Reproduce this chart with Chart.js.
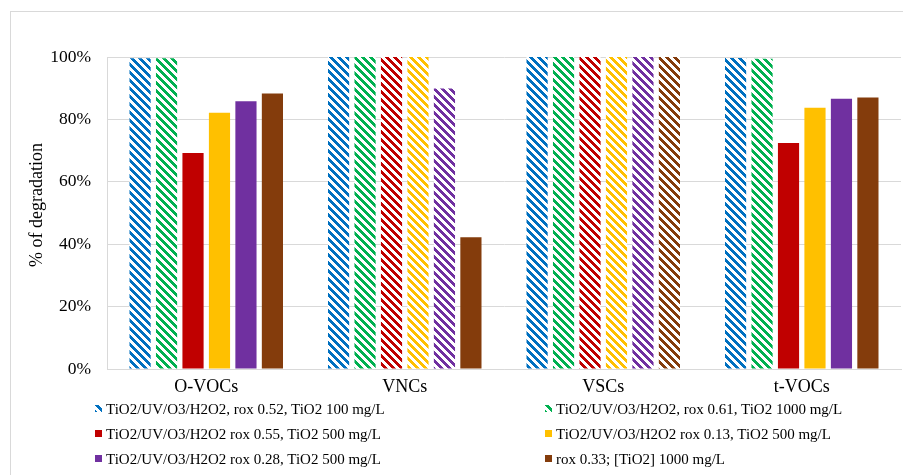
<!DOCTYPE html>
<html><head><meta charset="utf-8">
<script src="https://cdn.jsdelivr.net/npm/chart.js@4.4.1/dist/chart.umd.min.js"></script>
<style>
html,body{margin:0;padding:0;background:#fff;}
#wrap{position:relative;width:903px;height:475px;overflow:hidden;background:#fff;}
#frame{position:absolute;left:10px;top:11px;width:1000px;height:1000px;border:1px solid #d9d9d9;box-sizing:border-box;}
canvas{position:absolute;left:0;top:0;}
#legend{position:absolute;left:0;top:0;width:903px;height:475px;font-family:'Liberation Serif','Times New Roman',serif;font-size:15px;color:#000;}
.item{position:absolute;white-space:nowrap;height:18px;line-height:18px;}
.sw{position:absolute;left:0;top:5px;width:7px;height:7px;}
.tx{position:absolute;left:11px;top:0;}
#ytitle{position:absolute;left:36px;top:205px;transform:translate(-50%,-50%) rotate(-90deg);white-space:nowrap;font-family:'Liberation Serif','Times New Roman',serif;font-size:18px;color:#000;line-height:20px;}
</style></head><body>
<div id="wrap"><div id="frame"></div><canvas id="c" width="903" height="475"></canvas><div id="legend"></div><div id="ytitle"></div></div>
<script>
// ---- data ----
const categories = ['O-VOCs', 'VNCs', 'VSCs', 't-VOCs'];
const seriesLabels = [
  'TiO2/UV/O3/H2O2, rox 0.52, TiO2 100 mg/L',
  'TiO2/UV/O3/H2O2, rox 0.61, TiO2 1000 mg/L',
  'TiO2/UV/O3/H2O2 rox 0.55, TiO2 500 mg/L',
  'TiO2/UV/O3/H2O2 rox 0.13, TiO2 500 mg/L',
  'TiO2/UV/O3/H2O2 rox 0.28, TiO2 500 mg/L',
  'rox 0.33; [TiO2] 1000 mg/L'
];
const rox052Values = [99.6, 100, 100, 99.7];
const rox061Values = [99.6, 100, 100, 99.4];
const rox055Values = [69.2, 100, 100, 72.4];
const rox013Values = [82.1, 100, 100, 83.7];
const rox028Values = [85.8, 89.9, 100, 86.6];
const rox033Values = [88.3, 42.2, 100, 87.0];
const yTickValues = [0, 20, 40, 60, 80, 100];
const yTitle = '% of degradation';

// ---- style ----
const seriesColors = ['#0070C0', '#00B050', '#C00000', '#FFC000', '#7030A0', '#843C0C'];
const hatched = [
  [true, true, true, true],
  [true, true, true, true],
  [false, true, true, false],
  [false, true, true, false],
  [false, true, true, false],
  [false, false, true, false]
];
const legendSwatchHatched = [true, true, false, false, false, false];

function patternCanvas(color) {
  const c = document.createElement('canvas');
  c.width = 8; c.height = 8;
  const g = c.getContext('2d');
  g.fillStyle = '#fff'; g.fillRect(0, 0, 8, 8);
  g.fillStyle = color;
  for (let y = 0; y < 8; y++) for (let x = 0; x < 8; x++)
    if ((((x - y) % 8) + 8) % 8 < 4) g.fillRect(x, y, 1, 1);
  return c;
}

const ctx = document.getElementById('c').getContext('2d');
const allValues = [rox052Values, rox061Values, rox055Values, rox013Values, rox028Values, rox033Values];
const patterns = seriesColors.map(col => ctx.createPattern(patternCanvas(col), 'repeat'));

const datasets = allValues.map((vals, i) => ({
  label: seriesLabels[i],
  data: vals,
  backgroundColor: vals.map((v, j) => hatched[i][j] ? patterns[i] : seriesColors[i]),
  borderWidth: 0,
  categoryPercentage: 0.8,
  barPercentage: 0.8
}));

const serif = "'Liberation Serif','Times New Roman',serif";

new Chart(ctx, {
  type: 'bar',
  data: { labels: categories, datasets },
  options: {
    responsive: false,
    animation: false,
    devicePixelRatio: 1,
    layout: { padding: { left: 0, top: 57, right: 2, bottom: 76 } },
    plugins: { legend: { display: false }, tooltip: { enabled: false }, title: { display: false } },
    scales: {
      x: {
        grid: { display: false, drawTicks: false },
        border: { display: true, color: '#d9d9d9', width: 1 },
        ticks: { color: '#000', padding: 7, font: { family: serif, size: 18 } },
        afterFit: s => { s.height = 30; }
      },
      y: {
        min: 0, max: 100,
        afterBuildTicks: s => { s.ticks = yTickValues.map(v => ({ value: v })); },
        grid: { color: '#d9d9d9', drawTicks: false, lineWidth: 1 },
        border: { display: true, color: '#d9d9d9' },
        ticks: { color: '#000', padding: 16, font: { family: serif, size: 17.5 }, callback: v => v + '%' },
        title: { display: false },
        afterFit: s => { s.width = 107; }
      }
    }
  }
});

document.getElementById('ytitle').textContent = yTitle;

// ---- HTML legend ----
const legend = document.getElementById('legend');
const colX = [95, 545];
const rowY = [400, 425, 450];
seriesLabels.forEach((lab, i) => {
  const it = document.createElement('div');
  it.className = 'item';
  it.style.left = colX[i % 2] + 'px';
  it.style.top = rowY[Math.floor(i / 2)] + 'px';
  const sw = document.createElement('span');
  sw.className = 'sw';
  if (legendSwatchHatched[i]) sw.style.backgroundImage = 'url(' + patternCanvas(seriesColors[i]).toDataURL() + ')';
  else sw.style.background = seriesColors[i];
  const tx = document.createElement('span');
  tx.className = 'tx';
  tx.textContent = lab;
  it.appendChild(sw); it.appendChild(tx);
  legend.appendChild(it);
});
</script>
</body></html>
